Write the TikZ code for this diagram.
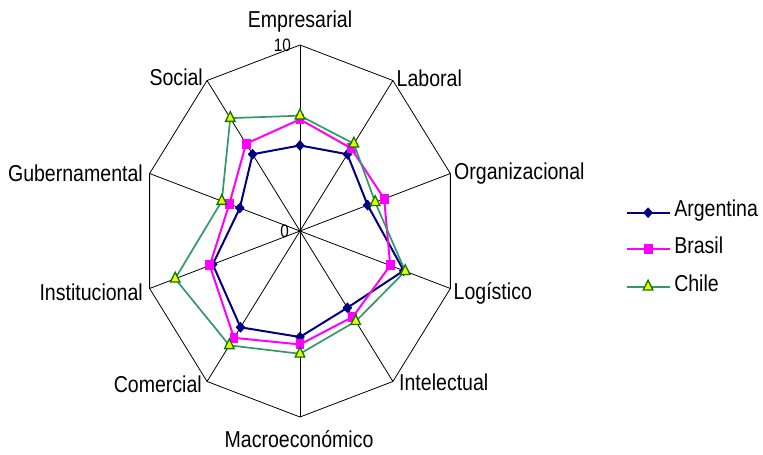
\documentclass[tikz,border=0pt]{standalone}
\usepackage{fontspec}
\setmainfont{Liberation Sans}
\usetikzlibrary{shapes.geometric}

\definecolor{argcol}{RGB}{0,0,128}
\definecolor{brcol}{RGB}{255,0,255}
\definecolor{chcol}{RGB}{51,153,102}
\definecolor{chedge}{RGB}{0,128,0}

\tikzset{
  axislabel/.style={font=\fontsize{23}{25}\selectfont, inner sep=0pt},
  ticklabel/.style={font=\fontsize{18}{20}\selectfont, inner sep=0pt},
  gridline/.style={black, line width=0.8pt},
  argline/.style={argcol, line width=2pt},
  brline/.style={brcol, line width=2pt},
  chline/.style={chcol, line width=1.7pt},
  argmark/.style={diamond, fill=argcol, inner sep=0pt, minimum width=11.5pt, minimum height=11pt},
  brmark/.style={rectangle, fill=brcol, inner sep=0pt, minimum width=10.5pt, minimum height=10pt},
  chmark/.style={regular polygon, regular polygon sides=3, draw=chedge, fill=yellow, line width=1.3pt, inner sep=0pt, minimum size=13pt},
}

\begin{document}
\begin{tikzpicture}[x=1pt, y=1pt, xscale=0.85, every node/.append style={transform shape}]
	\useasboundingbox (0,0) rectangle (897.6,454);

	\begin{scope}[shift={(352.9,223)}]
		\coordinate (o) at (0,0);
		\foreach \k in {0,...,9} \coordinate (v\k) at (90-36*\k:186);

		% grid
		\draw[gridline] (v0) \foreach \k in {1,...,9}{ -- (v\k)} -- cycle;
		\foreach \k in {0,...,9} \draw[gridline] (o) -- (v\k);

		% Argentina
		\foreach \v [count=\k from 0] in {4.6,5.1,4.5,6.9,5.1,5.7,6.4,5.8,4.0,5.1}
			\coordinate (a\k) at (90-36*\k:18.6*\v);
		\draw[argline] (a0) \foreach \k in {1,...,9}{ -- (a\k)} -- cycle;
		\foreach \k in {0,...,9} \node[argmark] (ma\k) at (a\k) {};

		% Brasil
		\foreach \v [count=\k from 0] in {6.0,5.5,5.6,6.0,5.7,6.1,7.1,6.0,4.7,5.8}
			\coordinate (b\k) at (90-36*\k:18.6*\v);
		\draw[brline] (b0) \foreach \k in {1,...,9}{ -- (b\k)} -- cycle;
		\foreach \k in {0,...,9} \node[brmark] (mb\k) at (b\k) {};

		% Chile
		\foreach \v [count=\k from 0] in {6.2,5.8,5.0,7.0,6.0,6.6,7.6,8.3,5.2,7.5}
			\coordinate (c\k) at (90-36*\k:18.6*\v);
		\draw[chline] (c0) \foreach \k in {1,...,9}{ -- (c\k)} -- cycle;
		\foreach \k in {0,...,9} \node[chmark] (mc\k) at (c\k) {};
	\end{scope}

	% value axis
	\node[ticklabel, anchor=east] (t10) at (342.4,409) {10};
	\node[ticklabel, anchor=east] (t0) at (340,223) {0};

	% category labels
	\node[axislabel, anchor=base] (empresarial) at (352.9,426.7) {Empresarial};
	\node[axislabel, anchor=base west] (laboral) at (466.5,367.5) {Laboral};
	\node[axislabel, anchor=base west] (organizacional) at (534.1,274) {Organizacional};
	\node[axislabel, anchor=base west] (logistico) at (533.5,155) {Logístico};
	\node[axislabel, anchor=base west] (intelectual) at (469.4,63.3) {Intelectual};
	\node[axislabel, anchor=base] (macro) at (351.8,6.3) {Macroeconómico};
	\node[axislabel, anchor=base east] (comercial) at (237.6,61.7) {Comercial};
	\node[axislabel, anchor=base east] (institucional) at (168.2,154) {Institucional};
	\node[axislabel, anchor=base east] (gubernamental) at (168.2,272.3) {Gubernamental};
	\node[axislabel, anchor=base east] (social) at (238.8,368) {Social};

	% legend
	\coordinate (la1) at (737.6,241.3);
	\coordinate (la2) at (788.2,241.3);
	\draw[argline] (la1) -- (la2);
	\node[argmark] (lma) at (762.4,241.3) {};
	\node[axislabel, anchor=base west] (lta) at (793,237.3) {Argentina};

	\coordinate (lb1) at (737.6,204.7);
	\coordinate (lb2) at (788.2,204.7);
	\draw[brline] (lb1) -- (lb2);
	\node[brmark] (lmb) at (762.4,204.7) {};
	\node[axislabel, anchor=base west] (ltb) at (793,200.7) {Brasil};

	\coordinate (lc1) at (737.6,167.3);
	\coordinate (lc2) at (788.2,167.3);
	\draw[chline] (lc1) -- (lc2);
	\node[chmark] (lmc) at (762.4,167.3) {};
	\node[axislabel, anchor=base west] (ltc) at (793,163) {Chile};
\end{tikzpicture}
\end{document}
